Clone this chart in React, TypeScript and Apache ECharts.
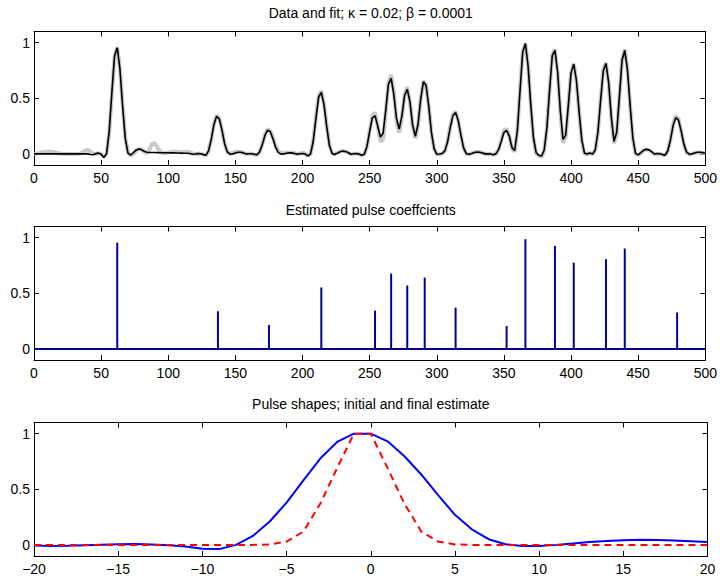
import React, { useEffect, useRef } from "react";
import * as echarts from "echarts";

const FONT = "'Liberation Sans', Arial, Helvetica, sans-serif";

const titles = [
  "Data and fit; \u03BA = 0.02; \u03B2 = 0.0001",
  "Estimated pulse coeffcients",
  "Pulse shapes; initial and final estimate",
];

// samples of the top panel are taken every 2 units from 0 to 500
const sampleStep = 2;

const fitValues = [
  0, 0, 0, 0, 0, 0, 0, 0, 0, 0,
  0, 0, 0, 0, 0, 0, 0, 0, 0, 0,
  0, -0.005, -0.008, 0.002, 0.007, -0.003, -0.033, 0, 0.2, 0.554,
  0.883, 0.955, 0.761, 0.428, 0.134, 0.006, -0.01, 0.011, 0.033, 0.043,
  0.038, 0.024, 0.015, 0.012, 0.012, 0.012, 0.011, 0.01, 0.01, 0.01,
  0.01, 0.009, 0.009, 0.008, 0.008, 0.007, 0.006, 0.005, 0.003, -0.003,
  -0.001, 0.002, 0.001, -0.005, -0.013, 0.027, 0.128, 0.262, 0.338, 0.315,
  0.214, 0.091, 0.017, -0.003, 0, 0.008, 0.014, 0.015, 0.009, -0.001,
  0.001, 0.001, -0.003, -0.008, 0.017, 0.081, 0.166, 0.214, 0.199, 0.135,
  0.058, 0.011, -0.002, 0, 0.005, 0.009, 0.009, 0.004, -0.004, 0.001,
  0.004, -0.002, -0.019, 0, 0.116, 0.32, 0.511, 0.552, 0.44, 0.247,
  0.077, 0.003, -0.006, 0.007, 0.019, 0.025, 0.022, 0.012, -0.003, 0.001,
  0.002, -0.001, -0.012, -0.003, 0.067, 0.201, 0.323, 0.342, 0.25, 0.151,
  0.185, 0.396, 0.627, 0.679, 0.532, 0.318, 0.223, 0.342, 0.524, 0.581,
  0.468, 0.261, 0.158, 0.264, 0.491, 0.648, 0.617, 0.43, 0.193, 0.048,
  -0.003, -0.001, 0.003, 0.027, 0.106, 0.236, 0.343, 0.371, 0.296, 0.166,
  0.052, 0.002, -0.004, 0.004, 0.013, 0.017, 0.014, 0.007, 0, 0.001,
  -0.001, -0.007, 0, 0.038, 0.111, 0.192, 0.212, 0.16, 0.057, 0.029,
  0.208, 0.57, 0.914, 0.993, 0.79, 0.443, 0.145, 0.012, -0.013, -0.02,
  0.035, 0.234, 0.57, 0.884, 0.931, 0.736, 0.388, 0.13, 0.169, 0.441,
  0.728, 0.807, 0.66, 0.38, 0.126, 0.007, -0.002, 0.007, -0.001, 0.035,
  0.195, 0.48, 0.748, 0.813, 0.64, 0.33, 0.113, 0.194, 0.515, 0.844,
  0.93, 0.755, 0.436, 0.146, 0.005, -0.009, 0.011, 0.032, 0.041, 0.036,
  0.02, -0.001, 0.002, 0.001, -0.005, -0.012, 0.026, 0.124, 0.254, 0.327,
  0.304, 0.207, 0.088, 0.017, -0.003, 0, 0.008, 0.014, 0.014, 0.011,
  0.006,
];

const dataValues = [
  0, 0.003, 0.008, 0.014, 0.018, 0.02, 0.02, 0.018, 0.012, 0.006,
  0.002, 0, 0, 0, 0, 0, 0, 0.002, 0.012, 0.028,
  0.035, 0.02, 0.002, 0, 0.006, -0.002, -0.025, 0, 0.19, 0.54,
  0.87, 0.955, 0.775, 0.445, 0.145, 0.01, -0.015, 0, 0.03, 0.045,
  0.04, 0.02, 0.005, 0.04, 0.09, 0.095, 0.055, 0.02, 0.008, 0.008,
  0.012, 0.018, 0.022, 0.02, 0.016, 0.015, 0.018, 0.02, 0.015, 0.005,
  -0.002, 0.002, 0.001, -0.006, -0.015, 0.025, 0.13, 0.27, 0.345, 0.32,
  0.215, 0.09, 0.015, 0, 0.008, 0.018, 0.022, 0.015, 0.008, 0,
  0.002, 0.002, -0.004, -0.01, 0.015, 0.085, 0.175, 0.222, 0.205, 0.145,
  0.07, 0.025, 0.01, 0.006, 0.01, 0.013, 0.012, 0.006, -0.002, 0.003,
  0.008, 0.003, -0.015, 0, 0.12, 0.33, 0.525, 0.565, 0.45, 0.25,
  0.08, 0.005, -0.004, 0.01, 0.02, 0.026, 0.02, 0.01, -0.002, 0.002,
  0.002, -0.002, -0.012, -0.005, 0.065, 0.21, 0.345, 0.37, 0.25, 0.11,
  0.13, 0.38, 0.64, 0.71, 0.55, 0.3, 0.19, 0.33, 0.53, 0.6,
  0.47, 0.25, 0.14, 0.255, 0.49, 0.655, 0.62, 0.43, 0.19, 0.045,
  -0.006, -0.003, 0.002, 0.026, 0.108, 0.245, 0.355, 0.38, 0.3, 0.165,
  0.05, 0, -0.005, 0.004, 0.015, 0.02, 0.016, 0.008, 0, 0,
  -0.002, -0.008, 0, 0.04, 0.12, 0.21, 0.225, 0.16, 0.045, 0.02,
  0.21, 0.58, 0.92, 0.99, 0.79, 0.44, 0.14, 0.005, -0.02, -0.025,
  0.03, 0.235, 0.575, 0.89, 0.94, 0.73, 0.37, 0.1, 0.15, 0.44,
  0.73, 0.81, 0.66, 0.37, 0.11, 0, -0.004, 0.006, -0.004, 0.03,
  0.19, 0.48, 0.755, 0.82, 0.64, 0.32, 0.095, 0.18, 0.51, 0.85,
  0.94, 0.76, 0.435, 0.14, 0, -0.012, 0.01, 0.03, 0.04, 0.034,
  0.018, -0.003, 0, 0, -0.006, -0.014, 0.025, 0.13, 0.265, 0.34,
  0.315, 0.21, 0.085, 0.012, -0.005, 0, 0.008, 0.014, 0.013, 0.01,
  0.005,
];

const coefPositions = [62, 137, 175, 214, 254, 266, 278, 291, 314, 352, 366, 388, 402, 426, 440, 479];
const coefValues = [0.955, 0.338, 0.214, 0.552, 0.344, 0.677, 0.57, 0.641, 0.371, 0.205, 0.986, 0.926, 0.775, 0.807, 0.902, 0.327];

const pulseX = [
  -20, -19, -18, -17, -16, -15, -14, -13, -12, -11, -10, -9, -8, -7, -6, -5, -4, -3, -2, -1, 0,
  1, 2, 3, 4, 5, 6, 7, 8, 9, 10, 11, 12, 13, 14, 15, 16, 17, 18, 19, 20,
];
const finalPulse = [
  -0.005, -0.01, -0.008, -0.003, 0.002, 0.006, 0.007, 0.004, -0.003, -0.015, -0.035, -0.038, 0, 0.08, 0.21, 0.38, 0.58, 0.776, 0.925, 1, 1,
  0.931, 0.797, 0.633, 0.448, 0.27, 0.14, 0.051, 0.006, -0.01, -0.01, 0, 0.012, 0.025, 0.035, 0.042, 0.045, 0.044, 0.04, 0.033, 0.025,
];
const initialPulse = [
  0, 0, 0, 0, 0, 0, 0, 0, 0, 0, 0, 0, 0, 0, 0.004, 0.03, 0.12, 0.37, 0.69, 1, 1,
  0.69, 0.37, 0.12, 0.03, 0.004, 0, 0, 0, 0, 0, 0, 0, 0, 0, 0, 0, 0, 0, 0, 0,
];

const yTicks = [0, 0.5, 1];

const GRID_LEFT = 34;
const GRID_RIGHT = 12.5;
const GRID_H = 133.5;
const gridTops = [31.5, 226.5, 422.5];
const titleYs = [12.5, 210, 404];

function App() {
  const ref = useRef<HTMLDivElement>(null);

  useEffect(() => {
    document.body.style.margin = "0";
    if (!ref.current) return;
    const chart = echarts.init(ref.current, undefined, { renderer: "svg" });

    const labelStyle = { color: "#000", fontFamily: FONT, fontSize: 14 };
    const minus = (v: number) => String(v).replace("-", "\u2212");

    const xAxisPair = (gi: number, min: number, max: number, interval: number) => [
      {
        type: "value", gridIndex: gi, position: "bottom", min, max, interval,
        axisLine: { show: true, onZero: false, lineStyle: { color: "#000", width: 1 } },
        axisTick: { show: true, inside: true, length: 5, lineStyle: { color: "#000" } },
        axisLabel: { show: true, margin: 6, formatter: minus, ...labelStyle },
        splitLine: { show: false },
      },
      {
        type: "value", gridIndex: gi, position: "top", min, max, interval,
        axisLine: { show: true, onZero: false, lineStyle: { color: "#000", width: 1 } },
        axisTick: { show: true, inside: true, length: 5, lineStyle: { color: "#000" } },
        axisLabel: { show: false },
        splitLine: { show: false },
      },
    ];
    const yAxisPair = (gi: number) => [
      {
        type: "value", gridIndex: gi, position: "left", min: -0.1, max: 1.1,
        axisLine: { show: true, onZero: false, lineStyle: { color: "#000", width: 1 } },
        axisTick: { show: true, inside: true, length: 5, customValues: yTicks, lineStyle: { color: "#000" } },
        axisLabel: { show: true, margin: 4, customValues: yTicks, ...labelStyle },
        splitLine: { show: false },
      },
      {
        type: "value", gridIndex: gi, position: "right", min: -0.1, max: 1.1,
        axisLine: { show: true, onZero: false, lineStyle: { color: "#000", width: 1 } },
        axisTick: { show: true, inside: true, length: 5, customValues: yTicks, lineStyle: { color: "#000" } },
        axisLabel: { show: false, customValues: yTicks },
        splitLine: { show: false },
      },
    ];

    const fitData = fitValues.map((v, i) => [i * sampleStep, v]);
    const dataData = dataValues.map((v, i) => [i * sampleStep, v]);
    const stemData = coefPositions.map((p, i) => [p, coefValues[i]]);
    const finalData = pulseX.map((x, i) => [x, finalPulse[i]]);
    const initialData = pulseX.map((x, i) => [x, initialPulse[i]]);

    chart.setOption({
      animation: false,
      backgroundColor: "#fff",
      grid: gridTops.map((t) => ({ left: GRID_LEFT, right: GRID_RIGHT, top: t, height: GRID_H, containLabel: false })),
      xAxis: [...xAxisPair(0, 0, 500, 50), ...xAxisPair(1, 0, 500, 50), ...xAxisPair(2, -20, 20, 5)],
      yAxis: [...yAxisPair(0), ...yAxisPair(1), ...yAxisPair(2)],
      graphic: titles.map((t, i) => ({
        type: "text",
        x: GRID_LEFT + (720 - GRID_LEFT - GRID_RIGHT) / 2,
        y: titleYs[i],
        style: { text: t, textAlign: "center", textVerticalAlign: "middle", fill: "#000", font: `14px ${FONT}` },
      })),
      series: [
        {
          type: "line", xAxisIndex: 0, yAxisIndex: 0, data: dataData, showSymbol: false, symbol: "none",
          lineStyle: { color: "#c8c8c8", width: 4 }, z: 1,
        },
        {
          type: "line", xAxisIndex: 0, yAxisIndex: 0, data: fitData, showSymbol: false, symbol: "none",
          lineStyle: { color: "#000", width: 1.6 }, z: 2,
        },
        {
          type: "line", xAxisIndex: 2, yAxisIndex: 2, data: [[0, 0], [500, 0]], showSymbol: false, symbol: "none",
          lineStyle: { color: "#00007a", width: 2 }, z: 1,
        },
        {
          type: "custom", xAxisIndex: 2, yAxisIndex: 2, data: stemData, z: 2,
          renderItem: (_params: any, api: any) => {
            const x = api.value(0);
            const y = api.value(1);
            const p0 = api.coord([x, 0]);
            const p1 = api.coord([x, y]);
            return {
              type: "line",
              shape: { x1: p0[0], y1: p0[1], x2: p1[0], y2: p1[1] },
              style: { stroke: "#00009a", lineWidth: 2 },
            };
          },
        },
        {
          type: "line", xAxisIndex: 4, yAxisIndex: 4, data: finalData, showSymbol: false, symbol: "none",
          lineStyle: { color: "#0000ff", width: 2 }, z: 2,
        },
        {
          type: "line", xAxisIndex: 4, yAxisIndex: 4, data: initialData, showSymbol: false, symbol: "none",
          lineStyle: { color: "#ff0000", width: 2, type: [7, 5] }, z: 3,
        },
      ],
    });

    return () => chart.dispose();
  }, []);

  return <div ref={ref} style={{ width: 720, height: 580 }} />;
}

export default App;
